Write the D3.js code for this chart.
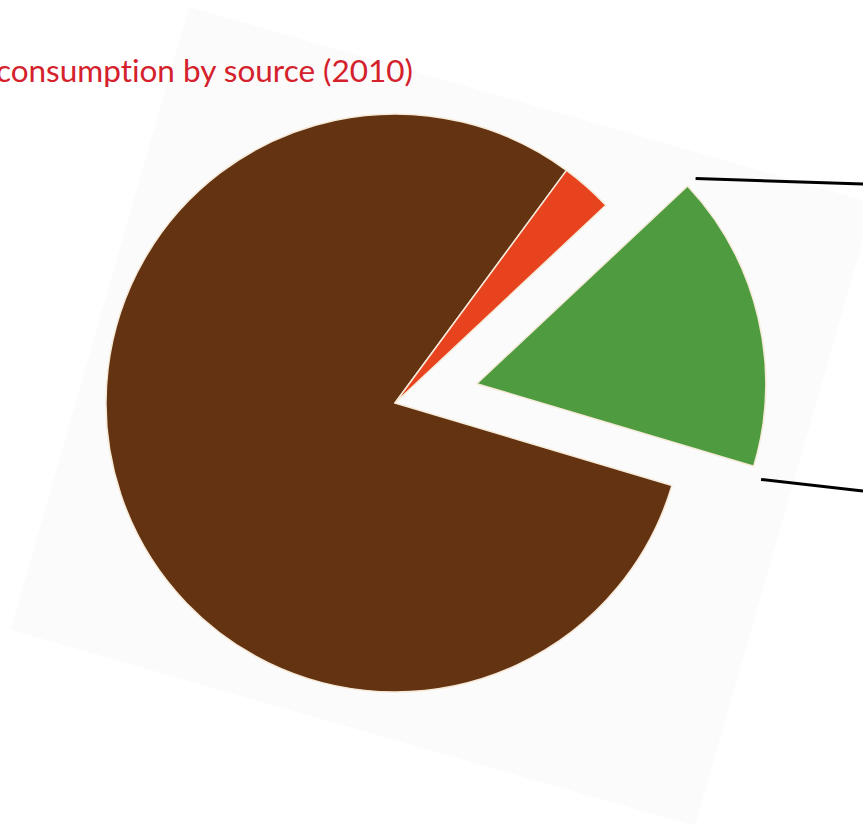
<!DOCTYPE html>
<html>
<head>
<meta charset="utf-8">
<script src="https://cdn.jsdelivr.net/npm/d3@7"></script>
<style>
  html, body { margin: 0; padding: 0; background: #ffffff; }
  svg { display: block; }
</style>
</head>
<body>
<svg id="chart" width="863" height="824"></svg>
<script>
// Energy consumption shares (percent), 2010
const categories = ["Fossil fuels", "Nuclear", "Renewables"];
const shares = [80.5, 2.9, 16.6];
const sliceColors = ["#643312", "#e8431f", "#4f9b40"];
const exploded = [false, false, true];
const titleText = "consumption by source (2010)";

const W = 863, H = 824;
const svg = d3.select("#chart");

// tilted page panel behind the chart
svg.append("rect")
  .attr("x", -356).attr("y", -324)
  .attr("width", 712).attr("height", 648)
  .attr("transform", "translate(442,416.5) rotate(16)")
  .attr("fill", "#fbfbfb");

// title
svg.append("text")
  .attr("x", 413).attr("y", 82)
  .attr("text-anchor", "end")
  .attr("font-family", "Lato, 'Open Sans', sans-serif")
  .attr("font-size", 31.5)
  .style("font-variant-ligatures", "none")
  .attr("fill", "#d4212c")
  .text(titleText);

const cx = 395, cy = 403, radius = 289, explodeDist = 84;
const deg = Math.PI / 180;
const start = 106.6 * deg;

const pie = d3.pie().sort(null).value(d => d.value)
  .startAngle(start).endAngle(start + 2 * Math.PI);
const data = pie(categories.map((c, i) => ({ name: c, value: shares[i], color: sliceColors[i], out: exploded[i] })));

const arc = d3.arc().innerRadius(0).outerRadius(radius);

const g = svg.append("g").attr("transform", `translate(${cx},${cy})`);

function offsetOf(d) {
  if (!d.data.out) return [0, 0];
  const mid = (d.startAngle + d.endAngle) / 2;
  return [Math.sin(mid) * explodeDist, -Math.cos(mid) * explodeDist];
}

g.selectAll("path.slice")
  .data(data)
  .join("path")
  .attr("class", "slice")
  .attr("d", arc)
  .attr("transform", d => `translate(${offsetOf(d)})`)
  .attr("fill", d => d.data.color)
  .attr("stroke", "#f6ead8")
  .attr("stroke-width", 1.5)
  .attr("stroke-linejoin", "round");

// leader lines from the corners of the exploded slice toward the labels
const lead = data.find(d => d.data.out);
const [ox, oy] = offsetOf(lead);
const leaderR = radius + 11;
const corners = [
  { a: lead.startAngle, endY: 184 },
  { a: lead.endAngle + 2 * deg, endY: 491 }
];
corners.forEach(c => {
  const x0 = cx + ox + Math.sin(c.a) * leaderR;
  const y0 = cy + oy - Math.cos(c.a) * leaderR;
  svg.append("line")
    .attr("x1", x0).attr("y1", y0)
    .attr("x2", W).attr("y2", c.endY)
    .attr("stroke", "#000")
    .attr("stroke-width", 3);
});
</script>
</body>
</html>
